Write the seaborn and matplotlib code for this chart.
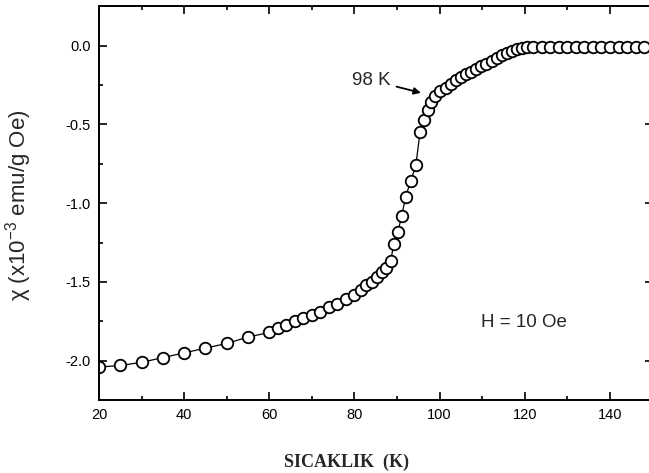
import matplotlib
matplotlib.use("Agg")
import matplotlib.pyplot as plt
import seaborn as sns
import pandas as pd
from matplotlib.ticker import MultipleLocator

# Data
temperature = [20, 25, 30, 35, 40, 45, 50, 55, 60,
               62, 64, 66, 68, 70, 72, 74, 76, 78,
               80, 81.5, 82.8, 84, 85.2, 86.4, 87.5, 88.5, 89.2, 90.2,
               91.1, 92.0, 93.2, 94.4, 95.4, 96.4, 97.2, 98.0, 99.0, 100.2,
               101.4, 102.6, 103.8, 105.0, 106.2, 107.4, 108.6, 109.8, 111.0,
               112.2, 113.4, 114.6, 115.8, 117.0, 118.2, 119.4, 120.6,
               122, 124, 126, 128, 130, 132, 134, 136, 138, 140, 142, 144, 146, 148]
chi = [-2.04, -2.03, -2.01, -1.98, -1.95, -1.92, -1.89, -1.85, -1.82,
       -1.79, -1.77, -1.75, -1.73, -1.71, -1.69, -1.66, -1.64, -1.61,
       -1.58, -1.55, -1.52, -1.50, -1.47, -1.44, -1.41, -1.37, -1.26, -1.18,
       -1.08, -0.96, -0.86, -0.76, -0.55, -0.47, -0.41, -0.36, -0.32, -0.29,
       -0.27, -0.245, -0.22, -0.20, -0.18, -0.165, -0.15, -0.13, -0.115,
       -0.095, -0.078, -0.063, -0.049, -0.036, -0.025, -0.017, -0.011,
       -0.01, -0.01, -0.01, -0.01, -0.01, -0.01, -0.01, -0.01, -0.01, -0.01,
       -0.01, -0.01, -0.01, -0.01]
x_ticks = [20, 40, 60, 80, 100, 120, 140]
y_ticks = [0.0, -0.5, -1.0, -1.5, -2.0]

df = pd.DataFrame({"T": temperature, "chi": chi})

sns.set_style("ticks")
plt.rcParams["font.family"] = ["Liberation Sans", "DejaVu Sans"]
plt.rcParams["mathtext.fontset"] = "custom"
plt.rcParams["mathtext.rm"] = "Liberation Sans"
plt.rcParams["mathtext.it"] = "Liberation Sans:italic"

fig = plt.figure(figsize=(6.49, 4.73), dpi=100)
ax = fig.add_axes([0.1525, 0.154, 0.853, 0.833])

sns.lineplot(data=df, x="T", y="chi", ax=ax, sort=False, color="black",
             linewidth=0.9, marker="o", markersize=8.3, markerfacecolor="white",
             markeredgecolor="black", markeredgewidth=1.3)

ax.set_xlim(20, 150)
ax.set_ylim(-2.25, 0.25)
ax.set_xticks(x_ticks)
ax.set_yticks(y_ticks)
ax.set_yticklabels([f"{v:.1f}" for v in y_ticks])
ax.xaxis.set_minor_locator(MultipleLocator(10))
ax.yaxis.set_minor_locator(MultipleLocator(0.25))
ax.tick_params(which="both", direction="in", top=True, right=True,
               width=1.2, labelsize=10.5, colors="black")
ax.tick_params(which="major", length=6, pad=6)
ax.tick_params(which="minor", length=3)
for s in ax.spines.values():
    s.set_linewidth(1.4)
    s.set_color("black")

ax.set_xlabel("SICAKLIK  (K)", family="Liberation Serif", fontweight="bold",
              fontsize=13)
ax.xaxis.set_label_coords(0.447, -0.135)
ax.set_ylabel(r"χ (x10$^{-3}$ emu/g Oe)", fontsize=16)
ax.yaxis.set_label_coords(-0.118, 0.495)

ax.annotate("98 K", xy=(95.6, -0.30), xytext=(79.4, -0.22),
            fontsize=13.5, va="center", ha="left",
            arrowprops=dict(arrowstyle="-|>", color="black", lw=1.3,
                            mutation_scale=10, shrinkA=2, shrinkB=0))
ax.text(109.6, -1.76, "H = 10 Oe", fontsize=13.5, va="center", ha="left")

fig.savefig("out.png", dpi=100)
